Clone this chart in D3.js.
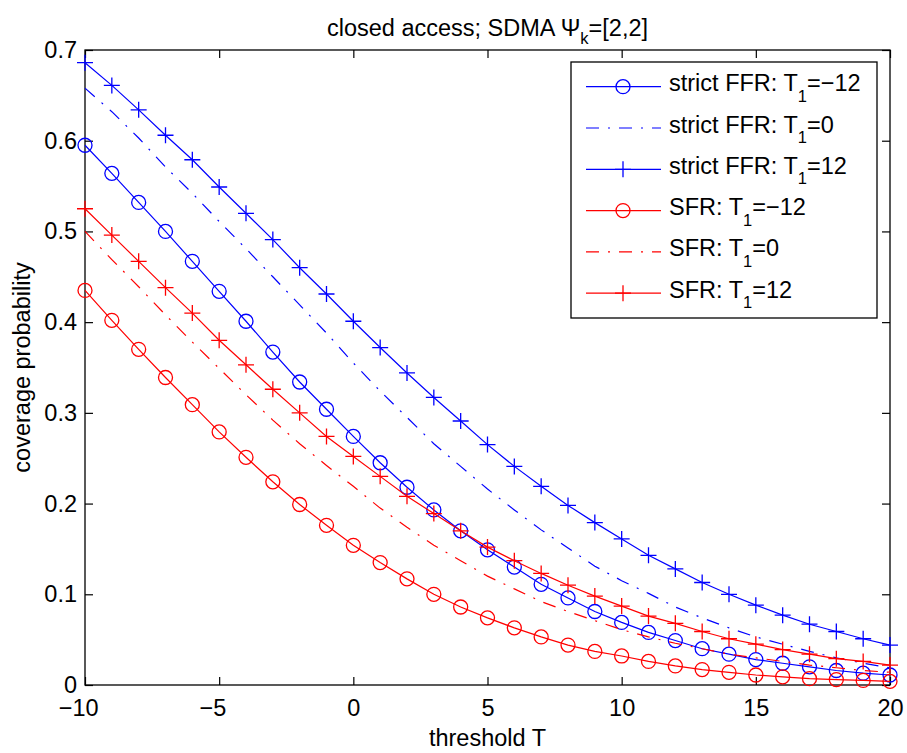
<!DOCTYPE html>
<meta charset="utf-8">
<html>
<head>
  <title>Coverage probability vs threshold</title>
  <style>
    body { margin: 0; background: #fff; }
    svg {
      width: 907px;
      height: 753px;
      font-family: 'Liberation Sans', Arial, Helvetica, sans-serif;
    }
    .axis text { font-size: 23.5px; fill: #000; font-family: 'Liberation Sans', Arial, sans-serif; }
    .axis line { stroke: #000; stroke-width: 1.2; }
    .axis path { display: none; }
    .lbl { font-size: 23.5px; fill: #000; }
    .series { fill: none; stroke-width: 1.2; }
    .marker { fill: none; stroke-width: 1.3; }
  </style>
  <script src="https://d3js.org/d3.v7.min.js"></script>
</head>
<body>
  <svg></svg>
  <script>

    // threshold T (dB), one point per integer
    var thresholds = [-10, -9, -8, -7, -6, -5, -4, -3, -2, -1, 0, 1, 2, 3, 4, 5, 6, 7, 8, 9, 10,
                      11, 12, 13, 14, 15, 16, 17, 18, 19, 20];

    // coverage probability
    var ffrM12 = [0.595, 0.564, 0.532, 0.500, 0.467, 0.434, 0.401, 0.367, 0.334, 0.304, 0.274,
                  0.245, 0.218, 0.193, 0.170, 0.149, 0.130, 0.111, 0.096, 0.081, 0.069,
                  0.058, 0.049, 0.040, 0.034, 0.028, 0.024, 0.020, 0.016, 0.013, 0.011];
    var ffr0   = [0.658, 0.632, 0.603, 0.571, 0.542, 0.511, 0.481, 0.450, 0.419, 0.388, 0.355,
                  0.324, 0.295, 0.266, 0.241, 0.216, 0.193, 0.171, 0.151, 0.131, 0.115,
                  0.101, 0.086, 0.074, 0.063, 0.053, 0.045, 0.037, 0.030, 0.024, 0.019];
    var ffr12  = [0.686, 0.661, 0.634, 0.606, 0.579, 0.549, 0.520, 0.491, 0.460, 0.431, 0.401,
                  0.372, 0.344, 0.317, 0.291, 0.265, 0.241, 0.219, 0.198, 0.179, 0.161,
                  0.143, 0.128, 0.113, 0.100, 0.088, 0.077, 0.067, 0.059, 0.051, 0.044];
    var sfrM12 = [0.435, 0.402, 0.370, 0.339, 0.309, 0.279, 0.251, 0.224, 0.199, 0.176, 0.154,
                  0.135, 0.117, 0.100, 0.086, 0.074, 0.063, 0.053, 0.044, 0.037, 0.032,
                  0.026, 0.021, 0.017, 0.014, 0.011, 0.009, 0.007, 0.006, 0.005, 0.004];
    var sfr0   = [0.500, 0.469, 0.439, 0.408, 0.378, 0.349, 0.320, 0.292, 0.266, 0.242, 0.219,
                  0.195, 0.174, 0.154, 0.137, 0.120, 0.106, 0.092, 0.081, 0.071, 0.061,
                  0.053, 0.046, 0.040, 0.034, 0.030, 0.026, 0.022, 0.019, 0.016, 0.014];
    var sfr12  = [0.525, 0.496, 0.467, 0.438, 0.410, 0.380, 0.353, 0.326, 0.300, 0.274, 0.252,
                  0.230, 0.208, 0.189, 0.170, 0.152, 0.137, 0.123, 0.110, 0.098, 0.087,
                  0.076, 0.068, 0.059, 0.051, 0.045, 0.039, 0.034, 0.029, 0.026, 0.022];

    var xTicks = [-10, -5, 0, 5, 10, 15, 20];
    var yTicks = [0, 0.1, 0.2, 0.3, 0.4, 0.5, 0.6, 0.7];

    var series = [
      {label: "strict FFR: T", rest: "=\u221212", values: ffrM12, color: "#0000ff", marker: "circle", dash: null},
      {label: "strict FFR: T", rest: "=0",       values: ffr0,   color: "#0000ff", marker: null,     dash: "13,9,2,9"},
      {label: "strict FFR: T", rest: "=12",      values: ffr12,  color: "#0000ff", marker: "plus",   dash: null},
      {label: "SFR: T",        rest: "=\u221212", values: sfrM12, color: "#ff0000", marker: "circle", dash: null},
      {label: "SFR: T",        rest: "=0",       values: sfr0,   color: "#ff0000", marker: null,     dash: "13,9,2,9"},
      {label: "SFR: T",        rest: "=12",      values: sfr12,  color: "#ff0000", marker: "plus",   dash: null}
    ];

    var svg = d3.select("svg");

    // axes box position in the window
    var margin = {top: 50, right: 17, bottom: 68, left: 85};
    var width = 907 - margin.left - margin.right;
    var height = 753 - margin.top - margin.bottom;

    var x = d3.scaleLinear().domain([-10, 20]).range([0, width]);
    var y = d3.scaleLinear().domain([0, 0.7]).range([height, 0]);

    var g = svg.append("g")
      .attr("transform", "translate(" + margin.left + "," + margin.top + ")");

    // ticks point inwards on all four sides (matlab box on)
    g.append("g").attr("class", "axis")
      .attr("transform", "translate(0," + height + ")")
      .call(d3.axisBottom(x).tickValues(xTicks).tickSize(-8).tickPadding(14))
      .selectAll("text")
        // matlab centres the digits, the minus sign hangs to the left
        .attr("dx", function(d) { return d < 0 ? "-0.29em" : 0; });
    g.append("g").attr("class", "axis")
      .call(d3.axisTop(x).tickValues(xTicks).tickSize(-8).tickFormat(""));
    g.append("g").attr("class", "axis")
      .call(d3.axisLeft(y).tickValues(yTicks).tickSize(-8).tickPadding(8)
        .tickFormat(function(d) { return d === 0 ? "0" : d3.format(".1f")(d); }));
    g.append("g").attr("class", "axis")
      .attr("transform", "translate(" + width + ",0)")
      .call(d3.axisRight(y).tickValues(yTicks).tickSize(-8).tickFormat(""));

    g.append("rect")
      .attr("width", width).attr("height", height)
      .attr("fill", "none").attr("stroke", "#000").attr("stroke-width", 1.3);

    var line = d3.line()
      .x(function(d, i) { return x(thresholds[i]); })
      .y(function(d) { return y(d); });

    function drawMarker(sel, type, color, cx, cy) {
      if (type === "circle") {
        sel.append("circle").attr("class", "marker")
          .attr("cx", cx).attr("cy", cy).attr("r", 7).attr("stroke", color);
      } else if (type === "plus") {
        sel.append("path").attr("class", "marker")
          .attr("d", "M" + (cx - 8) + "," + cy + "H" + (cx + 8) + "M" + cx + "," + (cy - 8) + "V" + (cy + 8))
          .attr("stroke", color);
      }
    }

    series.forEach(function(s) {
      g.append("path")
        .attr("class", "series")
        .attr("d", line(s.values))
        .attr("stroke", s.color)
        .attr("stroke-dasharray", s.dash);
      if (s.marker) {
        var mg = g.append("g");
        s.values.forEach(function(v, i) {
          drawMarker(mg, s.marker, s.color, x(thresholds[i]), y(v));
        });
      }
    });

    // legend
    var leg = svg.append("g");
    leg.append("rect")
      .attr("x", 571).attr("y", 62).attr("width", 306).attr("height", 256)
      .attr("fill", "#fff").attr("stroke", "#000").attr("stroke-width", 1.3);

    series.forEach(function(s, i) {
      var ry = 86.7 + i * 41.3;
      leg.append("line")
        .attr("x1", 586).attr("x2", 661).attr("y1", ry).attr("y2", ry)
        .attr("stroke", s.color).attr("stroke-width", 1.2)
        .attr("stroke-dasharray", s.dash);
      if (s.marker) drawMarker(leg, s.marker, s.color, 623, ry);
      var t = leg.append("text").attr("class", "lbl")
        .attr("x", 669).attr("y", ry + 4.5);
      t.append("tspan").text(s.label);
      t.append("tspan").attr("font-size", "16.5px").attr("dy", 10.5).text("1");
      t.append("tspan").attr("dy", -10.5).text(s.rest);
    });

    // title and axis labels
    var title = svg.append("text").attr("class", "lbl")
      .attr("x", margin.left + width / 2).attr("y", 36)
      .attr("text-anchor", "middle");
    title.append("tspan").text("closed access; SDMA \u03a8");
    title.append("tspan").attr("font-size", "16.5px").attr("dy", 8).text("k");
    title.append("tspan").attr("dy", -8).text("=[2,2]");

    svg.append("text").attr("class", "lbl")
      .attr("x", margin.left + width / 2).attr("y", 746)
      .attr("text-anchor", "middle")
      .text("threshold T");

    svg.append("text").attr("class", "lbl")
      .attr("transform", "translate(30," + (margin.top + height / 2) + ") rotate(-90)")
      .attr("text-anchor", "middle")
      .text("coverage probability");

  </script>
</body>
</html>
